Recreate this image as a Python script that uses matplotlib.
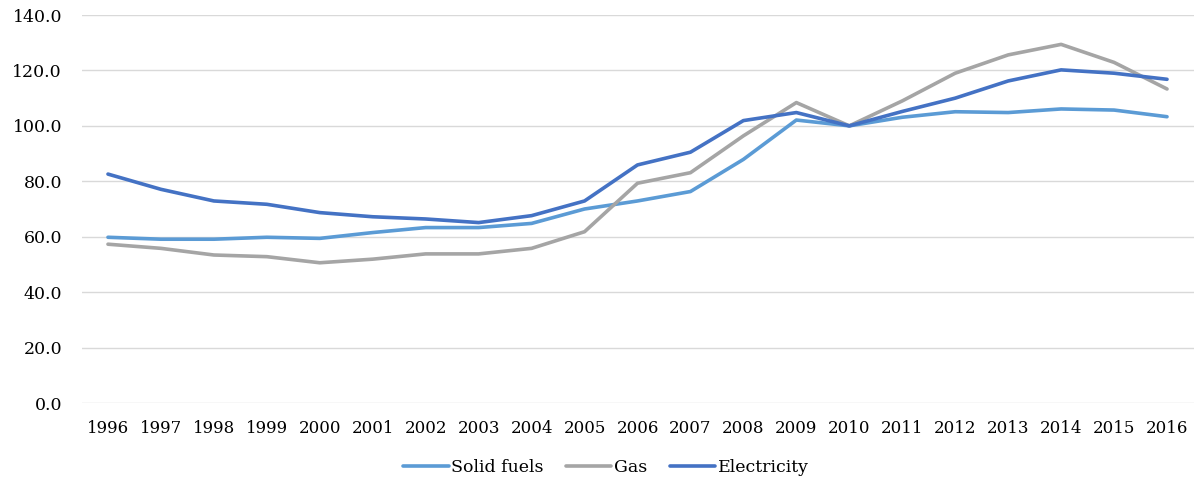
import matplotlib
matplotlib.use("Agg")
import matplotlib.pyplot as plt

years = [str(y) for y in range(1996, 2017)]
solid_fuels = [59.8, 59.1, 59.1, 59.8, 59.4, 61.5, 63.3, 63.3, 64.8, 70.0, 72.9,
               76.3, 87.9, 102.1, 100.0, 103.1, 105.1, 104.8, 106.1, 105.7, 103.3]
gas = [57.3, 55.8, 53.4, 52.8, 50.6, 51.9, 53.8, 53.8, 55.8, 61.8, 79.3,
       83.1, 96.4, 108.4, 100.0, 109.0, 119.0, 125.6, 129.4, 122.9, 113.3]
electricity = [82.6, 77.1, 72.9, 71.7, 68.7, 67.2, 66.4, 65.1, 67.6, 72.9, 85.9,
               90.5, 101.9, 104.8, 100.0, 105.2, 110.0, 116.2, 120.2, 119.0, 116.8]
y_ticks = [0, 20, 40, 60, 80, 100, 120, 140]

series = [
    ("Solid fuels", solid_fuels, "#5B9BD5"),
    ("Gas", gas, "#A5A5A5"),
    ("Electricity", electricity, "#4472C4"),
]

serif = "DejaVu Serif"

fig = plt.figure(figsize=(11.94, 4.83), dpi=100)
ax = fig.add_axes([81.5 / 1194, 80 / 483, 1112 / 1194, 388 / 483])

x = list(range(len(years)))
for name, vals, col in series:
    ax.plot(x, vals, color=col, linewidth=2.6, label=name, solid_capstyle="round")

ax.set_xlim(-0.5, len(years) - 0.5)
ax.set_ylim(0, 140)
ax.set_yticks(y_ticks)
ax.set_yticklabels([f"{v:.1f}" for v in y_ticks], family=serif, fontsize=12.5)
ax.set_xticks(x)
ax.set_xticklabels(years, family=serif, fontsize=12)
ax.tick_params(axis="both", length=0)
ax.tick_params(axis="y", pad=14)
ax.tick_params(axis="x", pad=12)

ax.grid(axis="y", color="#D9D9D9", linewidth=1)
ax.set_axisbelow(True)
for s in ax.spines.values():
    s.set_visible(False)

fig.legend(loc="center", bbox_to_anchor=(606 / 1194, 1 - 468 / 483), ncol=3,
           frameon=False, prop={"family": serif, "size": 12.5},
           handlelength=2.6, handletextpad=0.15, columnspacing=1.3)

fig.savefig("out.png", dpi=100)
